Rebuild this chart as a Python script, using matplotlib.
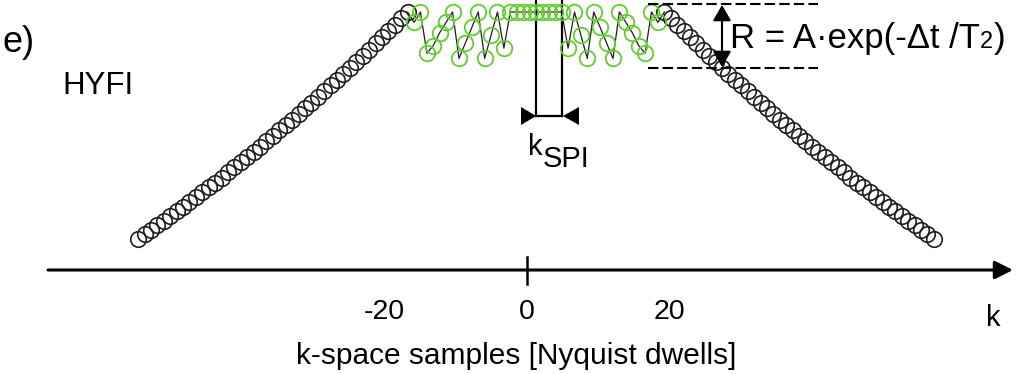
import numpy as np
import matplotlib
matplotlib.use('Agg')
import matplotlib.pyplot as plt

W, H = 1018, 374
plt.rcParams['font.family'] = ['Liberation Sans', 'DejaVu Sans']

# sample n sits at k = K0 + DK * n  (Nyquist dwells)
DK = 0.9
K0 = 1.26

# outer (single-point) samples, same on both sides, |n| = 20..62
outer_n = np.arange(20, 63)
outer_amp = [1.000, 0.975, 0.951, 0.926, 0.902, 0.878, 0.854, 0.831, 0.807, 0.784,
             0.761, 0.738, 0.716, 0.693, 0.671, 0.649, 0.627, 0.605, 0.583, 0.562,
             0.541, 0.520, 0.499, 0.478, 0.458, 0.438, 0.417, 0.398, 0.378, 0.358,
             0.339, 0.320, 0.301, 0.282, 0.263, 0.245, 0.227, 0.209, 0.191, 0.173,
             0.156, 0.138, 0.121]

# inner (spiral) samples, n = -19..19
inner_n = np.arange(-19, 20)
inner_amp = [0.96, 1.00, 0.84, 0.87, 0.92, 0.96, 1.00, 0.82, 0.88, 0.94,
             1.00, 0.82, 0.91, 1.00, 0.86,
             1.00, 1.00, 1.00, 1.00, 1.00, 1.00, 1.00, 1.00, 1.00,
             0.86, 1.00, 0.91, 0.82, 1.00, 0.94, 0.88, 0.82, 1.00, 0.96,
             0.92, 0.87, 0.84, 1.00, 0.96]

tick_vals = [-20, 0, 20]

BLACK = '#1e1e1e'
GREEN = '#62cc30'

fig = plt.figure(figsize=(W / 100, H / 100), dpi=100)
ax = fig.add_axes([0, 0, 1, 1])
ax.set_xlim((0 - 527) / 7.13, (W - 527) / 7.13)
ax.set_ylim((270 - H) / 258, 270 / 258)
ax.axis('off')

# overlay in pixel units for the annotation drawing
ov = fig.add_axes([0, 0, 1, 1])
ov.set_xlim(0, W)
ov.set_ylim(H, 0)
ov.axis('off')
ov.patch.set_alpha(0)

k_outer = K0 + DK * outer_n
k_left = K0 - DK * outer_n
k_inner = K0 + DK * inner_n

# zig-zag line through the inner samples, joined to the first outer ones
line_k = np.concatenate([[k_left[0]], k_inner, [k_outer[0]]])
line_a = np.concatenate([[outer_amp[0]], inner_amp, [outer_amp[0]]])
ax.plot(line_k, line_a, color=BLACK, lw=0.9, zorder=2)

mk = dict(marker='o', ls='none', mfc='none', ms=11.2)
ax.plot(k_left, outer_amp, mec=BLACK, mew=1.2, zorder=3, **mk)
ax.plot(k_outer, outer_amp, mec=BLACK, mew=1.2, zorder=3, **mk)
ax.plot(k_inner, inner_amp, mec=GREEN, mew=1.3, zorder=4, **mk)

# k axis
ax.annotate('', xy=((1013 - 527) / 7.13, 0), xytext=((48 - 527) / 7.13, 0),
            arrowprops=dict(arrowstyle='-|>,head_length=1.1,head_width=0.55',
                            mutation_scale=10, lw=2.2, color='black',
                            shrinkA=0, shrinkB=0))
ax.plot([0, 0], [(270 - 284) / 258, (270 - 257) / 258], color='black', lw=1.8)
for v in tick_vals:
    ax.text(v, (270 - 312) / 258, str(v), fontsize=20.5, ha='center', va='center')
ov.text(993, 318, 'k', fontsize=21, ha='center', va='center')
ov.text(516, 356, 'k-space samples [Nyquist dwells]', fontsize=21.5,
        ha='center', va='center')

# k_SPI marker
y_spi = 0.597
x_a, x_b = K0, K0 + 4 * DK
ax.plot([x_a, x_a], [y_spi, 1.2], color='black', lw=1.6)
ax.plot([x_b, x_b], [y_spi, 1.2], color='black', lw=1.6)
ax.plot([x_a, x_b], [y_spi, y_spi], color='black', lw=1.6)
ov.fill([521, 536, 521], [107, 116, 125], color='black', lw=0)
ov.fill([579, 563, 579], [107, 116, 125], color='black', lw=0)
ov.text(528, 155, 'k', fontsize=21, ha='left', va='baseline')
ov.text(543, 167, 'SPI', fontsize=21, ha='left', va='baseline')

# R marker with dashed bounds
ov.plot([648, 818], [4, 4], color='black', lw=1.5, dashes=(5, 2))
ov.plot([648, 818], [68, 68], color='black', lw=1.5, dashes=(5, 2))
ov.annotate('', xy=(722, 5), xytext=(722, 67),
            arrowprops=dict(arrowstyle='<|-|>,head_length=0.95,head_width=0.55',
                            mutation_scale=10, lw=1.5, color='black',
                            shrinkA=0, shrinkB=0))

fig.canvas.draw()
r = fig.canvas.get_renderer()
t1 = ov.text(730, 48, 'R = A\u00b7exp(-\u0394t /T', fontsize=25, va='baseline')
x1 = t1.get_window_extent(r).x1
t2 = ov.text(x1, 48, '2', fontsize=17, va='baseline')
x2 = t2.get_window_extent(r).x1
ov.text(x2 + 1, 48, ')', fontsize=25, va='baseline')

ov.text(2, 42, 'e)', fontsize=26, ha='left', va='center')
ov.text(62, 86, 'HYFI', fontsize=22.5, ha='left', va='center')

fig.savefig('out.png', dpi=100)
